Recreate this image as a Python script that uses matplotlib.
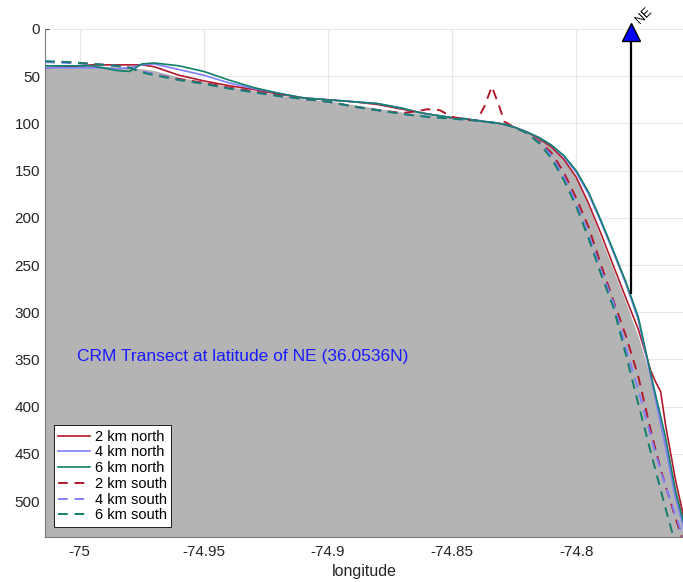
import matplotlib
matplotlib.use("Agg")
import matplotlib.pyplot as plt

plt.rcParams['font.family'] = ['Liberation Sans', 'DejaVu Sans']

# longitude grid shared by all transects (degrees east)
lon = [-75.014, -75.005, -74.995, -74.985, -74.98, -74.975, -74.97, -74.96,
       -74.95, -74.94, -74.93, -74.92, -74.91, -74.90, -74.89, -74.88,
       -74.87, -74.864, -74.86, -74.855, -74.85, -74.845, -74.84, -74.837,
       -74.834, -74.831, -74.829, -74.825, -74.82, -74.815, -74.81, -74.805,
       -74.80, -74.795, -74.79, -74.785, -74.78, -74.775, -74.77, -74.768,
       -74.766, -74.764, -74.76, -74.756]

# depth (m) along the transect at the NE latitude
depth_center = [40, 39, 39, 40, 41, 42, 44, 51, 56, 61, 65, 70, 74, 76, 80, 84,
                88, 89, 91, 93, 94, 95, 97, 98, 99, 100, 101, 104, 109, 116, 125, 139,
                159, 188, 222, 256, 290, 326, 370, 390, 412, 435, 485, 525]

depth_2n = [41, 40, 38, 38, 38, 38, 40, 49, 55, 60, 64, 69, 73, 75, 77, 80,
            85, 88, 90, 92, 94, 95, 97, 98, 99, 100, 101, 104, 109, 116, 125, 138,
            157, 185, 217, 251, 285, 318, 362, 374, 384, 420, 478, 525]
depth_4n = [41, 41, 41, 42, 41, 38, 37, 43, 49, 57, 63, 68, 73, 75, 77, 79,
            84, 88, 90, 92, 94, 95, 97, 98, 99, 100, 101, 104, 109, 115, 123, 135,
            152, 175, 205, 237, 270, 308, 368, 393, 418, 443, 497, 535]
depth_6n = [39, 39, 39, 44, 45, 37, 36, 39, 45, 54, 62, 68, 73, 75, 77, 79,
            84, 88, 90, 92, 94, 95, 97, 98, 99, 100, 101, 104, 109, 115, 123, 134,
            150, 173, 203, 235, 268, 305, 365, 388, 410, 433, 490, 530]
depth_2s = [35, 35, 37, 39, 41, 45, 48, 53, 57, 62, 66, 70, 74, 77, 82, 86,
            89, 87, 85, 86, 93, 96, 97, 82, 61, 82, 98, 104, 110, 119, 131, 152,
            179, 210, 250, 288, 325, 368, 425, 446, 466, 484, 518, 550]
depth_4s = [35, 36, 37, 39, 41, 45, 48, 54, 58, 63, 67, 71, 74, 77, 82, 86,
            90, 92, 93, 94, 95, 96, 97, 98, 99, 100, 101, 104, 110, 120, 134, 157,
            184, 218, 256, 290, 338, 382, 431, 450, 468, 484, 515, 545]
depth_6s = [34, 35, 37, 39, 41, 46, 49, 54, 58, 63, 67, 71, 74, 77, 82, 86,
            90, 92, 93, 94, 95, 96, 97, 98, 99, 100, 101, 104, 110, 121, 137, 160,
            188, 222, 260, 295, 345, 397, 448, 468, 488, 508, 546, 585]

labels = ['2 km north', '4 km north', '6 km north',
          '2 km south', '4 km south', '6 km south']
colors = ['#b2182b', '#7f7fff', '#11806a', '#b2182b', '#7f7fff', '#11806a']

# NE station marker
ne_lon = -74.778
ne_depth_bottom = 280
ne_depth_top = 3

xticks = [-75, -74.95, -74.9, -74.85, -74.8]
xtick_labels = ['-75', '-74.95', '-74.9', '-74.85', '-74.8']
yticks = [0, 50, 100, 150, 200, 250, 300, 350, 400, 450, 500]
xlim = (-75.014, -74.757)
ylim = (538, 0)

fig = plt.figure(figsize=(6.83, 5.82), dpi=100)
ax = fig.add_axes([0.0659, 0.0773, 0.9341, 0.8729])

ax.set_xlim(*xlim)
ax.set_ylim(*ylim)

ax.grid(True, color='#e6e6e6', linewidth=0.8, zorder=0)
ax.set_axisbelow(True)

ax.fill_between(lon, depth_center, ylim[0], color='#b4b4b4', linewidth=0, zorder=1)

series = [depth_2n, depth_4n, depth_6n, depth_2s, depth_4s, depth_6s]
for i, (d, lab, c) in enumerate(zip(series, labels, colors)):
    if i < 3:
        ax.plot(lon, d, color=c, linewidth=1.2, label=lab, zorder=3)
    else:
        ax.plot(lon, d, color=c, linewidth=1.4, linestyle=(0, (5, 3.5)),
                label=lab, zorder=3)

ax.plot([ne_lon, ne_lon], [ne_depth_bottom, ne_depth_top], color='black',
        linewidth=1.6, zorder=4)
ax.plot([ne_lon], [ne_depth_top], marker='^', markersize=13,
        markerfacecolor='#0000ff', markeredgecolor='black', markeredgewidth=1,
        clip_on=False, zorder=5)
ax.text(ne_lon + 0.0012, ne_depth_top - 6, 'NE', rotation=45, fontsize=9,
        ha='left', va='bottom', color='black', clip_on=False, zorder=5)

ax.text(-75.001, 347, 'CRM Transect at latitude of NE (36.0536N)', color='#1a1aff',
        fontsize=12.5, ha='left', va='center', zorder=5)

ax.set_xticks(xticks)
ax.set_xticklabels(xtick_labels)
ax.set_yticks(yticks)
ax.tick_params(axis='both', labelsize=11, colors='#262626', direction='in',
               length=3, width=0.6)
ax.tick_params(axis='x', pad=6)
ax.set_xlabel('longitude', fontsize=11.5, color='#262626', labelpad=3)

for side in ['top', 'right']:
    ax.spines[side].set_visible(False)
for side in ['left', 'bottom']:
    ax.spines[side].set_color('#7a7a7a')
    ax.spines[side].set_linewidth(0.8)

leg = ax.legend(loc='lower left', bbox_to_anchor=(0.014, 0.02), borderaxespad=0,
                fontsize=10.5, handlelength=2.2, handletextpad=0.3,
                labelspacing=0.12, borderpad=0.3, fancybox=False,
                framealpha=1, edgecolor='black')
leg.get_frame().set_linewidth(0.6)

fig.savefig('out.png', dpi=100)
